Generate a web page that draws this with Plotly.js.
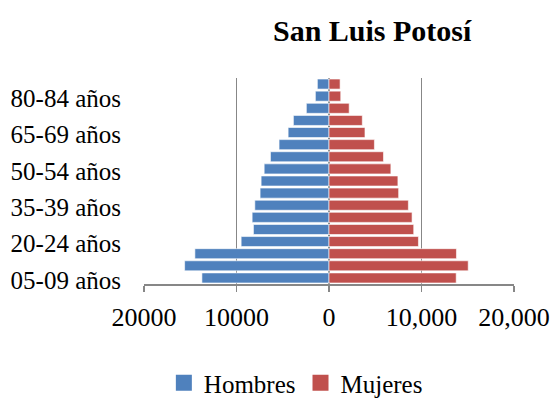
<!DOCTYPE html>
<html>
<head>
<meta charset="utf-8">
<script src="https://cdn.plot.ly/plotly-3.0.1.min.js"></script>
<style>html,body{margin:0;padding:0;background:#fff;}#chart{width:553px;height:400px;}</style>
</head>
<body>
<div id="chart"></div>
<script>
const categories = ["00-04 años","05-09 años","10-14 años","15-19 años","20-24 años","25-29 años","30-34 años","35-39 años","40-44 años","45-49 años","50-54 años","55-59 años","60-64 años","65-69 años","70-74 años","75-79 años","80-84 años"];
const hombres = [13740, 15610, 14500, 9500, 8170, 8310, 8020, 7450, 7340, 7010, 6330, 5400, 4420, 3850, 2450, 1475, 1260];
const mujeres = [13750, 15050, 13780, 9670, 9160, 8980, 8580, 7530, 7450, 6690, 5890, 4910, 3890, 3600, 2180, 1270, 1200];
const seriesNames = ["Hombres", "Mujeres"];
const shownCategories = ["05-09 años","20-24 años","35-39 años","50-54 años","65-69 años","80-84 años"];
const xTickVals = [-20000, -10000, 0, 10000, 20000];
const xTickText = ["20000", "10000", "0", "10,000", "20,000"];

const font = "Liberation Serif, Times New Roman, serif";
const colors = ["#4F81BD", "#C0504D"];
const traces = [
  {type: "bar", orientation: "h", name: seriesNames[0], y: categories, x: hombres.map(v => -v), showlegend: false,
   marker: {color: colors[0], line: {color: "rgba(255,255,255,0.6)", width: 1}}, hoverinfo: "skip"},
  {type: "bar", orientation: "h", name: seriesNames[1], y: categories, x: mujeres, showlegend: false,
   marker: {color: colors[1], line: {color: "rgba(255,255,255,0.6)", width: 1}}, hoverinfo: "skip"},
  {type: "scatter", mode: "markers", name: seriesNames[0], x: [null], y: [null],
   marker: {symbol: "square", size: 18, color: colors[0]}, hoverinfo: "skip"},
  {type: "scatter", mode: "markers", name: seriesNames[1], x: [null], y: [null],
   marker: {symbol: "square", size: 18, color: colors[1]}, hoverinfo: "skip"}
];
const layout = {
  width: 553, height: 400,
  margin: {l: 144, r: 39, t: 78, b: 116},
  paper_bgcolor: "#fff", plot_bgcolor: "#fff",
  font: {family: font, size: 25, color: "#000"},
  barmode: "overlay", bargap: 0.17,
  title: {text: "<b>San Luis Potosí</b>", x: 0.673, xref: "container", xanchor: "center",
          y: 0.925, yref: "container", yanchor: "middle", font: {family: font, size: 30, color: "#000"}},
  xaxis: {range: [-20000, 20000], tickvals: xTickVals, ticktext: xTickText,
          showgrid: true, gridcolor: "#878787", gridwidth: 1.5,
          zeroline: true, zerolinecolor: "#878787", zerolinewidth: 1.5,
          showline: true, linecolor: "#878787", linewidth: 1.5,
          ticks: "outside", ticklen: 6, tickcolor: "#878787", tickwidth: 1.5,
          tickfont: {family: font, size: 26, color: "#000"}, ticklabelstandoff: 3, fixedrange: true},
  yaxis: {type: "category", categoryarray: categories, tickvals: shownCategories, ticktext: shownCategories,
          range: [-0.5, 16.5],
          showgrid: false, zeroline: false, showline: false, ticks: "",
          tickfont: {family: font, size: 25, color: "#000"}, ticklabelstandoff: 22, ticklabelshift: 14,
          fixedrange: true},
  showlegend: true,
  legend: {orientation: "h", x: 0.535, xref: "container", xanchor: "center",
           y: 0.0425, yref: "container", yanchor: "middle",
           font: {family: font, size: 25, color: "#000"}, traceorder: "normal", itemwidth: 30,
           tracegroupgap: 0},
};
Plotly.newPlot("chart", traces, layout, {displayModeBar: false, staticPlot: true});
</script>
</body>
</html>
